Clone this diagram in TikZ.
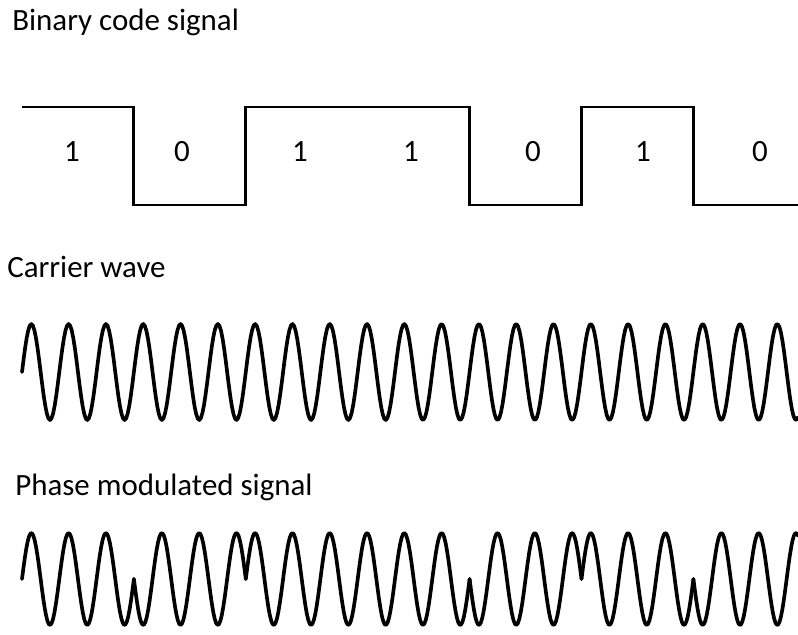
\documentclass[tikz,border=0pt]{standalone}
\usepackage{fontspec}
\setmainfont{Carlito}
\tikzset{
  sigtitle/.style={anchor=base west, inner sep=0pt, font=\fontsize{22}{26}\selectfont},
  bitlabel/.style={inner sep=0pt, font=\fontsize{22}{26}\selectfont},
  level/.style={line width=2.1pt, line join=miter},
  wave/.style={line width=2.6pt, line cap=round, line join=round},
}
\begin{document}
\begin{tikzpicture}[x=0.025cm,y=-0.025cm]
    \useasboundingbox (0,0) rectangle (798,634);
    % titles
    \node[sigtitle] (tbin) at (12,30) {Binary code signal};
    \node[sigtitle] (tcar) at (7,277) {Carrier wave};
    \node[sigtitle] (tpsk) at (15,495) {Phase modulated signal};
    % binary code
    \draw[level] (22,107) -- (133.9,107) -- (133.9,205) -- (245.8,205) -- (245.8,107)
      -- (469.6,107) -- (469.6,205) -- (581.5,205) -- (581.5,107) -- (693.4,107)
      -- (693.4,205) -- (798,205);
    \foreach \xpos/\bit [count=\i] in {72/1,182/0,300/1,411/1,533/0,643/1,760/0}
      \node[bitlabel] (bit\i) at (\xpos,152) {\bit};
    % carrier (9.6515 = 360/37.3)
    \draw[wave] plot[domain=22:798, samples=500] (\x, {372-48*sin(9.6515*(\x-22))});
    % phase modulated
    \foreach \bit [count=\i from 0] in {1,0,1,1,0,1,0} {
      \pgfmathsetmacro\xa{22+111.9*\i}
      \pgfmathsetmacro\xb{min(22+111.9*(\i+1),798)}
      \draw[wave] plot[domain=\xa:\xb, samples=80] (\x, {579-46*(2*\bit-1)*sin(9.6515*(\x-22))});
    }
\end{tikzpicture}
\end{document}
